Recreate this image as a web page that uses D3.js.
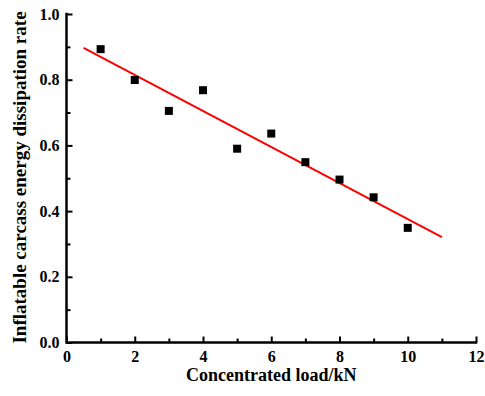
<!DOCTYPE html>
<html>
<head>
<meta charset="utf-8">
<script src="https://cdn.jsdelivr.net/npm/d3@7"></script>
<style>
  body { margin: 0; background: #fff; }
  text { font-family: "Liberation Serif", "Times New Roman", serif; font-weight: bold; }
</style>
</head>
<body>
<div id="chart"></div>
<script>
// data
var loads = [1, 2, 3, 4, 5, 6, 7, 8, 9, 10];
var rates = [0.893, 0.799, 0.705, 0.768, 0.590, 0.636, 0.549, 0.496, 0.442, 0.349];
var fitRange = [0.5, 11];
var xTicks = [0, 2, 4, 6, 8, 10, 12];
var yTicks = [0.0, 0.2, 0.4, 0.6, 0.8, 1.0];
var xMinor = [1, 3, 5, 7, 9, 11];
var yMinor = [0.1, 0.3, 0.5, 0.7, 0.9];

var width = 485, height = 396;
var margin = {top: 14, right: 9, bottom: 53.5, left: 66.5};

var svg = d3.select("#chart").append("svg")
    .attr("width", width)
    .attr("height", height);

var x = d3.scaleLinear().domain([0, 12]).range([margin.left, width - margin.right]);
var y = d3.scaleLinear().domain([0, 1]).range([height - margin.bottom, margin.top]);

// axis frame as one path straight on the svg
svg.append("path")
    .attr("d", "M" + x(0) + "," + y(1) + "V" + y(0) + "H" + x(12))
    .attr("fill", "none")
    .attr("stroke", "#000")
    .attr("stroke-width", 2.5)
    .attr("stroke-linecap", "square");

// axes with labels and inward ticks
var xAxis = svg.append("g")
    .attr("transform", "translate(0," + y(0) + ")")
    .call(d3.axisBottom(x).tickValues(xTicks).tickSize(-6).tickSizeOuter(0).tickPadding(8).tickFormat(d3.format("d")));
var xAxisMinor = svg.append("g")
    .attr("transform", "translate(0," + y(0) + ")")
    .call(d3.axisBottom(x).tickValues(xMinor).tickSize(-4).tickSizeOuter(0).tickFormat(""));

var yAxis = svg.append("g")
    .attr("transform", "translate(" + x(0) + ",0)")
    .call(d3.axisLeft(y).tickValues(yTicks).tickSize(-6).tickSizeOuter(0).tickPadding(7).tickFormat(d3.format(".1f")));
var yAxisMinor = svg.append("g")
    .attr("transform", "translate(" + x(0) + ",0)")
    .call(d3.axisLeft(y).tickValues(yMinor).tickSize(-4).tickSizeOuter(0).tickFormat(""));

[xAxis, yAxis, xAxisMinor, yAxisMinor].forEach(function(g){
    g.attr("font-size", 16).attr("font-family", "'Liberation Serif', serif");
    g.select(".domain").remove();
    g.selectAll(".tick line").attr("stroke", "#000").attr("stroke-width", 2);
    g.selectAll(".tick text").attr("fill", "#000");
});

// linear fit of the points
var mx = d3.mean(loads), my = d3.mean(rates);
var sxy = d3.sum(loads, function(d, i){ return (d - mx) * (rates[i] - my); });
var sxx = d3.sum(loads, function(d){ return (d - mx) * (d - mx); });
var slope = sxy / sxx, intercept = my - slope * mx;

svg.append("line")
    .attr("x1", x(fitRange[0])).attr("y1", y(intercept + slope * fitRange[0]))
    .attr("x2", x(fitRange[1])).attr("y2", y(intercept + slope * fitRange[1]))
    .attr("stroke", "#ff0000").attr("stroke-width", 2);

// points
var s = 8;
svg.selectAll("rect.pt").data(loads).enter().append("rect")
    .attr("class", "pt")
    .attr("x", function(d){ return x(d) - s / 2; })
    .attr("y", function(d, i){ return y(rates[i]) - s / 2; })
    .attr("width", s).attr("height", s)
    .attr("fill", "#000");

// axis titles
svg.append("text")
    .attr("x", x(6))
    .attr("y", 381)
    .attr("text-anchor", "middle")
    .attr("font-size", 18)
    .text("Concentrated load/kN");

svg.append("text")
    .attr("transform", "translate(26,177.5) rotate(-90)")
    .attr("text-anchor", "middle")
    .attr("font-size", 19)
    .text("Inflatable carcass energy dissipation rate");
</script>
</body>
</html>
